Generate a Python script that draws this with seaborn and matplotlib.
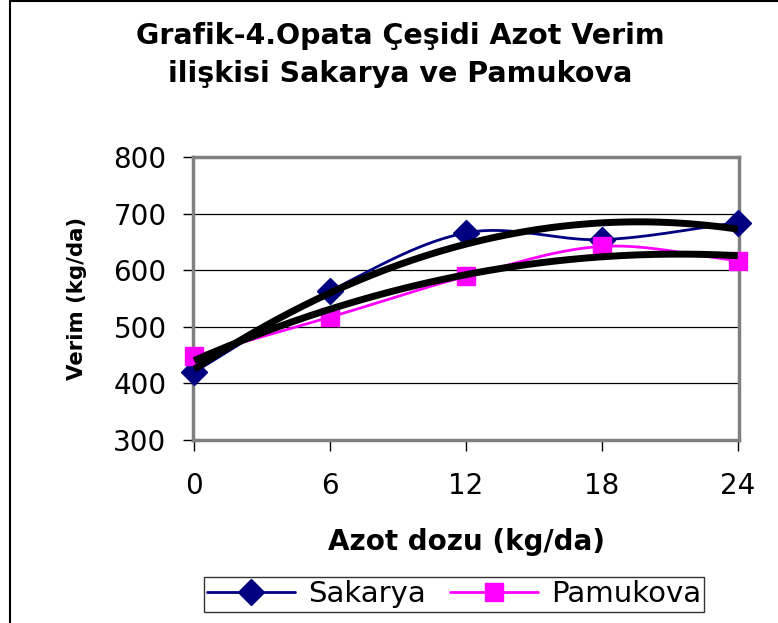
import numpy as np
import pandas as pd
import matplotlib
matplotlib.use("Agg")
import matplotlib.pyplot as plt
import seaborn as sns
from matplotlib.lines import Line2D

# ---- data ----
doses = [0, 6, 12, 18, 24]
sakarya = [420, 563, 666, 654, 684]
pamukova = [448, 517, 589, 642, 617]
series_names = ["Sakarya", "Pamukova"]
y_ticks = [300, 400, 500, 600, 700, 800]
title = "Grafik-4.Opata Çeşidi Azot Verim\nilişkisi Sakarya ve Pamukova"
x_label = "Azot dozu (kg/da)"
y_label = "Verim (kg/da)"

sns.set_theme(style="white")
plt.rcParams["font.family"] = ["DejaVu Sans"]
plt.rcParams["text.color"] = "black"
plt.rcParams["axes.labelcolor"] = "black"
plt.rcParams["xtick.color"] = "black"
plt.rcParams["ytick.color"] = "black"

W, H = 778, 623
fig = plt.figure(figsize=(W / 100, H / 100), dpi=100)
ax = fig.add_axes([193 / W, 1 - 440 / H, (739 - 193) / W, (440 - 157) / H])


def catmull_rom(xs, ys, n=40):
    xs = np.asarray(xs, float)
    ys = np.asarray(ys, float)
    px = np.concatenate([[2 * xs[0] - xs[1]], xs, [2 * xs[-1] - xs[-2]]])
    py = np.concatenate([[2 * ys[0] - ys[1]], ys, [2 * ys[-1] - ys[-2]]])
    ox, oy = [], []
    t = np.linspace(0, 1, n)
    for i in range(1, len(px) - 2):
        for arr, out in ((px, ox), (py, oy)):
            p0, p1, p2, p3 = arr[i - 1], arr[i], arr[i + 1], arr[i + 2]
            out.extend(0.5 * ((2 * p1) + (-p0 + p2) * t +
                              (2 * p0 - 5 * p1 + 4 * p2 - p3) * t ** 2 +
                              (-p0 + 3 * p1 - 3 * p2 + p3) * t ** 3))
    return np.array(ox), np.array(oy)


colors = {"Sakarya": "#000080", "Pamukova": "#FF00FF"}
markers = {"Sakarya": "D", "Pamukova": "s"}
msizes = {"Sakarya": 13, "Pamukova": 13}
data = {"Sakarya": sakarya, "Pamukova": pamukova}

for name in series_names:
    sx, sy = catmull_rom(doses, data[name])
    sdf = pd.DataFrame({"x": sx, "y": sy})
    sns.lineplot(data=sdf, x="x", y="y", ax=ax, color=colors[name], lw=2,
                 sort=False, estimator=None, zorder=3)
    ax.plot(doses, data[name], linestyle="none", marker=markers[name],
            ms=msizes[name], color=colors[name], mec=colors[name],
            zorder=4, clip_on=False)

# polynomial (order 2) trendlines
xx = np.linspace(min(doses), max(doses), 200)
for name in series_names:
    c = np.polyfit(doses, data[name], 2)
    ax.plot(xx, np.polyval(c, xx), color="black", lw=5, zorder=5,
            solid_capstyle="butt")

ax.set_xlim(-0.05, 24.05)
ax.set_ylim(300, 800)
ax.set_xticks(doses)
ax.set_xticklabels([str(d) for d in doses])
ax.set_yticks(y_ticks)
ax.grid(axis="y", color="black", lw=0.9)
ax.grid(axis="x", visible=False)
for s in ax.spines.values():
    s.set_color("#808080")
    s.set_linewidth(2.5)
ax.tick_params(axis="y", direction="out", length=7, width=1, color="black",
               pad=12, labelsize=20, left=True, labelcolor="black")
ax.tick_params(axis="x", direction="out", length=8, width=1, color="black",
               pad=15, labelsize=20, bottom=True, labelcolor="black")
ax.set_xlabel(x_label, fontsize=20, fontweight="bold", labelpad=20,
              color="black")
ax.set_ylabel(y_label, fontsize=15.3, fontweight="bold", labelpad=19,
              color="black")

fig.text(400 / W, 1 - 55 / H, title, ha="center", va="center",
         fontsize=20.5, fontweight="bold", linespacing=1.42, color="black")

handles = [Line2D([], [], color=colors[n], lw=2, marker=markers[n],
                  ms=msizes[n], mec=colors[n]) for n in series_names]
leg = fig.legend(handles, series_names, loc="center",
                 bbox_to_anchor=(454 / W, 1 - 594 / H), ncol=2,
                 fontsize=21, frameon=True, fancybox=False,
                 handlelength=3.0, handletextpad=0.45, columnspacing=0.85,
                 borderpad=0.12, borderaxespad=0)
leg.get_frame().set_edgecolor("black")
leg.get_frame().set_linewidth(1)
for t in leg.get_texts():
    t.set_color("black")

# chart area border (left and top visible)
fig.add_artist(Line2D([10 / W, 10 / W], [0, 1 - 1 / H], color="black", lw=1.5,
                      transform=fig.transFigure))
fig.add_artist(Line2D([10 / W, 1], [1 - 1 / H, 1 - 1 / H], color="black", lw=1.5,
                      transform=fig.transFigure))

fig.savefig("out.png", dpi=100)
